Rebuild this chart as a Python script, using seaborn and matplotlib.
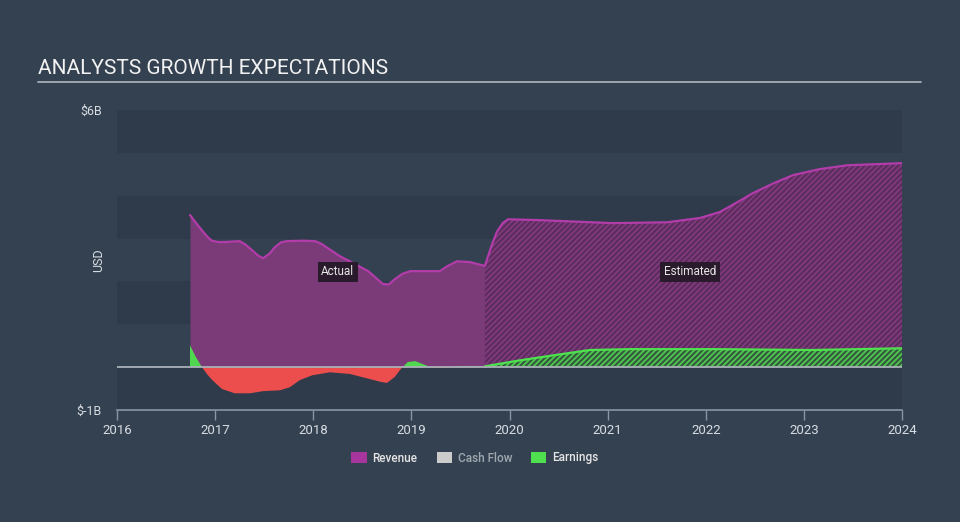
import matplotlib
matplotlib.use("Agg")
import matplotlib.pyplot as plt
from matplotlib.patches import Patch
import numpy as np
import pandas as pd
import seaborn as sns

sns.set_theme(style="dark")
plt.rcParams['font.family'] = ['Roboto', 'DejaVu Sans']
plt.rcParams['hatch.linewidth'] = 1.3

# ---------------- data (billions USD) ----------------
rev_act_x = [2016.744, 2016.80, 2016.87, 2016.93, 2016.968, 2017.03, 2017.10, 2017.25, 2017.31,
             2017.376, 2017.44, 2017.488, 2017.55, 2017.61, 2017.67, 2017.73, 2017.90,
             2018.02, 2018.08, 2018.14, 2018.27, 2018.405, 2018.56, 2018.64, 2018.71,
             2018.77, 2018.83, 2018.91, 2018.99, 2019.29, 2019.37, 2019.465, 2019.60, 2019.75]
rev_act_y = [3.55, 3.38, 3.18, 3.02, 2.95, 2.92, 2.92, 2.94, 2.86,
             2.73, 2.60, 2.54, 2.64, 2.80, 2.91, 2.94, 2.95,
             2.94, 2.88, 2.79, 2.59, 2.43, 2.24, 2.08, 1.94,
             1.93, 2.05, 2.18, 2.24, 2.24, 2.36, 2.47, 2.45, 2.36]
rev_est_x = [2019.75, 2019.78, 2019.82, 2019.87, 2019.93, 2019.985, 2020.31, 2021.05, 2021.605,
             2021.94, 2022.145, 2022.30, 2022.48, 2022.70, 2022.89, 2023.16, 2023.44, 2024.0]
rev_est_y = [2.36, 2.58, 2.85, 3.15, 3.36, 3.45, 3.43, 3.36, 3.38,
             3.48, 3.62, 3.82, 4.06, 4.30, 4.48, 4.62, 4.71, 4.76]

earn_act_x = [2016.744, 2016.805, 2016.866, 2016.92, 2016.97, 2017.07, 2017.20, 2017.355, 2017.49,
              2017.66, 2017.76, 2017.865, 2017.99, 2018.17, 2018.375, 2018.58, 2018.68, 2018.75,
              2018.83, 2018.90, 2018.965, 2019.04, 2019.14, 2019.22, 2019.34, 2019.50, 2019.75]
earn_act_y = [0.51, 0.23, 0.0, -0.17, -0.30, -0.51, -0.61, -0.61, -0.56,
              -0.54, -0.47, -0.30, -0.19, -0.12, -0.16, -0.28, -0.34, -0.37,
              -0.23, -0.02, 0.12, 0.14, 0.05, -0.02, -0.02, 0.02, 0.02]
earn_est_x = [2019.75, 2020.11, 2020.46, 2020.82, 2021.23, 2022.07, 2023.09, 2024.0]
earn_est_y = [0.02, 0.16, 0.28, 0.40, 0.42, 0.42, 0.40, 0.44]

year_ticks = list(range(2016, 2025))
legend_labels = ["Revenue", "Cash Flow", "Earnings"]

# ---------------- style ----------------
BG = "#344150"
BAND_DARK = "#2f3b4a"
BAND_LIGHT = "#344150"
REV_FILL = "#7b3a78"
REV_LINE = "#b23caa"
REV_HATCH_FACE = "#5a2d5c"
REV_HATCH_EDGE = "#82397f"
EARN_POS = "#4fd84f"
EARN_NEG = "#ec4e4e"
EARN_LINE = "#4ee24e"
EARN_HATCH_FACE = "#35583f"
EARN_HATCH_EDGE = "#4ec84e"
AXIS_C = "#8a96a3"
TEXT_C = "#d8dde3"

fig = plt.figure(figsize=(9.6, 5.22), dpi=100, facecolor=BG)
ax = fig.add_axes([117/960, 1-410/522, (902-117)/960, 300/522])
ax.set_facecolor(BAND_LIGHT)

ax.set_xlim(2016, 2024.0)
ax.set_ylim(-1, 6)

# horizontal bands
for lo in range(-1, 6):
    ax.axhspan(lo, lo + 1, color=BAND_DARK if (lo % 2 != 0) else BAND_LIGHT, lw=0, zorder=0)

# zero line
ax.axhline(0, color="#a9b0b8", lw=1.3, zorder=6)

# revenue actual
ax.fill_between(rev_act_x, 0, rev_act_y, facecolor=REV_FILL, lw=0, zorder=2)
# revenue estimated (hatched)
ax.fill_between(rev_est_x, 0, rev_est_y, facecolor=REV_HATCH_FACE, edgecolor=REV_HATCH_EDGE,
                hatch="//////", lw=0, zorder=2)

df_rev = pd.DataFrame({"x": rev_act_x + rev_est_x, "y": rev_act_y + rev_est_y})
sns.lineplot(data=df_rev, x="x", y="y", ax=ax, color=REV_LINE, lw=1.6, sort=False,
             estimator=None, zorder=4)

# earnings actual
ea_x = np.array(earn_act_x)
ea_y = np.array(earn_act_y)
ax.fill_between(ea_x, 0, ea_y, where=ea_y >= 0, interpolate=True, facecolor=EARN_POS, lw=0, zorder=3)
ax.fill_between(ea_x, 0, ea_y, where=ea_y <= 0, interpolate=True, facecolor=EARN_NEG, lw=0, zorder=3)
# earnings estimated
ax.fill_between(earn_est_x, 0, earn_est_y, facecolor=EARN_HATCH_FACE, edgecolor=EARN_HATCH_EDGE,
                hatch="//////", lw=0, zorder=3)
df_earn = pd.DataFrame({"x": earn_est_x, "y": earn_est_y})
sns.lineplot(data=df_earn, x="x", y="y", ax=ax, color=EARN_LINE, lw=1.6, estimator=None, zorder=4)

# annotations
box = dict(boxstyle="square,pad=0.3", facecolor="#2a1b2c", edgecolor="none")
ax.text(2018.25, 2.23, "Actual", color="#e6e6e6", fontsize=8.5, ha="center", va="center",
        bbox=box, zorder=7)
ax.text(2021.84, 2.23, "Estimated", color="#e6e6e6", fontsize=8.5, ha="center", va="center",
        bbox=box, zorder=7)

# axes styling
for s in ["top", "right", "left"]:
    ax.spines[s].set_visible(False)
ax.spines["bottom"].set_color(AXIS_C)
ax.spines["bottom"].set_linewidth(1.2)
ax.set_xticks(year_ticks)
ax.set_xticklabels([str(y) for y in year_ticks], color=TEXT_C, fontsize=9.5)
ax.tick_params(axis="x", colors=AXIS_C, length=7, width=1, pad=3, labelcolor=TEXT_C, bottom=True)
ax.set_yticks([-1, 6])
ax.set_yticklabels(["$-1B", "$6B"], color=TEXT_C, fontsize=9)
ax.tick_params(axis="y", length=0, pad=11, labelcolor=TEXT_C)
ax.set_xlabel("")
ax.set_ylabel("")
ax.grid(False)
fig.text(99/960, 1-260/522, "USD", color=TEXT_C, fontsize=9, rotation=90, ha="center", va="center")

# title + underline
fig.text(38/960, 1-68/522, "ANALYSTS GROWTH EXPECTATIONS", color="#f2f2f2", fontsize=15,
         ha="left", va="center")
fig.add_artist(plt.Line2D([38/960, 921/960], [1-81.5/522, 1-81.5/522], color="#a6adb5", lw=1.3))

# legend
handles = [Patch(facecolor="#a6369e", edgecolor="none"),
           Patch(facecolor="#cccccc", edgecolor="none"),
           Patch(facecolor="#4fe04f", edgecolor="none")]
leg = fig.legend(handles, legend_labels, loc="center", bbox_to_anchor=(475/960, 1-458/522),
                 ncol=3, frameon=False, fontsize=8.5, handlelength=1.3, handleheight=1.0,
                 columnspacing=1.6, handletextpad=0.5)
for t, c in zip(leg.get_texts(), ["#e6e6e6", "#a0a8b0", "#e6e6e6"]):
    t.set_color(c)
    t.set_fontweight("medium")

fig.savefig("out.png", dpi=100, facecolor=BG)
